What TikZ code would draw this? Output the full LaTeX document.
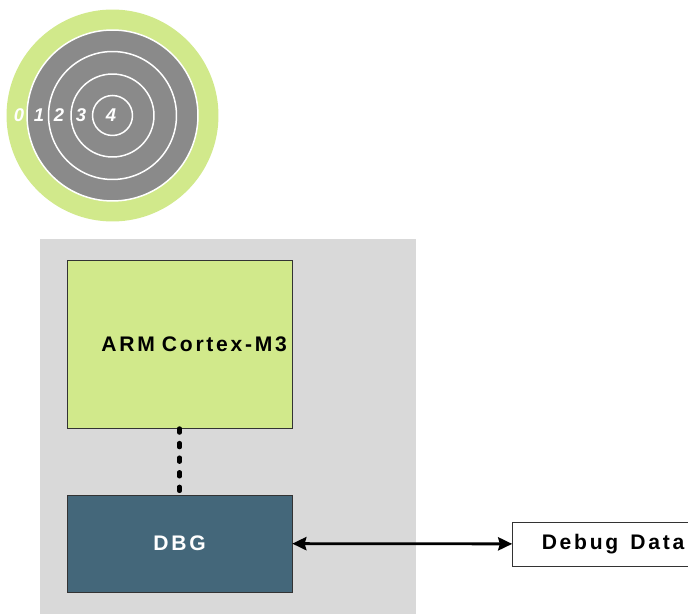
\documentclass[tikz,border=0pt]{standalone}
\usepackage{fontspec}
\setmainfont{Liberation Sans}
\newfontfamily\boxfont[LetterSpace=13,WordSpace=1.4]{Liberation Sans}
\usepackage{tikz}
\usetikzlibrary{positioning,arrows.meta}
\usepackage{xcolor}
\definecolor{lime}{RGB}{209,233,139}
\definecolor{ringgray}{RGB}{138,138,138}
\definecolor{board}{RGB}{217,217,217}
\definecolor{dbgblue}{RGB}{68,103,122}

\begin{document}
\begin{tikzpicture}[x=0.02cm,y=-0.02cm,
        % define styles
        ring/.style={
             draw=white,
             line width=0.85pt
        },
        level/.style={
             text=white,
             font=\fontsize{10.5}{11}\selectfont\bfseries\itshape,
             inner sep=0pt
        },
        block/.style={
             draw=black!80,
             line width=0.4pt,
             font=\fontsize{12}{14}\selectfont\boxfont\bfseries
        },
        link/.style={
             line width=1.6pt,
             {Stealth[length=8pt,width=7.5pt,inset=1pt]}-{Stealth[length=8pt,width=7.5pt,inset=1pt]}
        }
    ]
        \useasboundingbox (0,0) rectangle (688,614);

        % target with the levels
        \coordinate (c) at (112.5,115.5);
        \fill[lime] (c) circle[radius=2.12cm];
        \fill[ringgray] (c) circle[radius=1.71cm];
        \draw[ring] (c) circle[radius=1.71cm];
        \draw[ring] (c) circle[radius=1.28cm];
        \draw[ring] (c) circle[radius=0.83cm];
        \draw[ring] (c) circle[radius=0.40cm];
        \node[level] at (19,115)  (l0) {0};
        \node[level] at (39,115)  (l1) {1};
        \node[level] at (59,115)  (l2) {2};
        \node[level] at (81,115)  (l3) {3};
        \node[level] at (111,115) (l4) {4};

        % board
        \fill[board] (40,239) rectangle (416,614);

        \node[block,fill=lime,minimum height=3.36cm,text width=4.3cm,
              inner sep=0.1cm,align=right] at (179.5,344) (cpu) {ARM Cortex-M3};
        \node[block,fill=dbgblue,text=white,minimum width=4.5cm,
              minimum height=1.94cm] at (179.5,543.5) (dbg) {DBG};
        \node[block,fill=white,minimum width=4.02cm,
              minimum height=0.88cm] at (613,544) (data) {Debug Data};

        \draw[line width=2.3pt,line cap=round,dash pattern=on 2.5pt off 5.8pt]
            (cpu) -- (dbg);
        \draw[link] (dbg) -- (data);
    \end{tikzpicture}
\end{document}
